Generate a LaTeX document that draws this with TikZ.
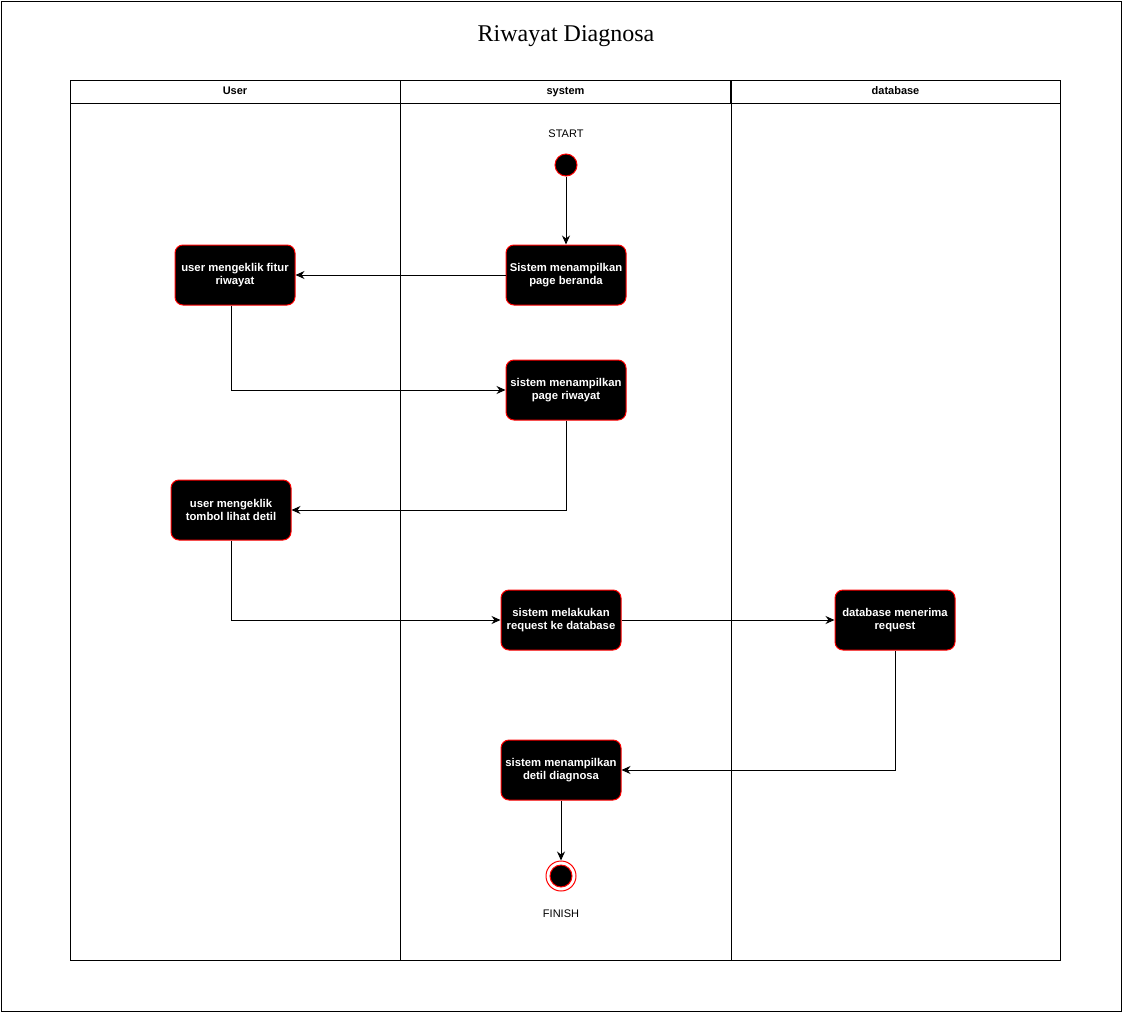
\documentclass[tikz,border=0pt]{standalone}
\usepackage{fontspec}
\setmainfont{Liberation Sans}
\newfontfamily\titlefont{Liberation Serif}
\usetikzlibrary{arrows.meta}

\begin{document}
\begin{tikzpicture}[
        x=1pt, y=-1pt,
        every node/.style={font=\fontsize{11}{13}\selectfont},
        lanehead/.style={rectangle, draw=black, line width=1pt, minimum width=330pt, minimum height=23pt, inner sep=0pt, text height=8pt, text depth=2pt, font=\fontsize{11}{13}\selectfont\bfseries},
        activity/.style={rectangle, draw=red, line width=1pt, fill=black, rounded corners=8pt, minimum width=120pt, minimum height=60pt, align=center, text=white, font=\fontsize{11.3}{13.5}\selectfont\bfseries},
        startnode/.style={circle, draw=red, line width=1pt, fill=black, minimum size=22pt, inner sep=0pt},
        finishring/.style={circle, draw=red, line width=1pt, fill=white, minimum size=30pt, inner sep=0pt},
        arrow/.style={line width=1pt, -{Stealth[length=9pt,width=8pt]}}
        ]

        % Frame and title
        \useasboundingbox (0,0) rectangle (1122,1012);
        \draw[line width=1pt] (1,1) rectangle (1121,1011);
        \node[font=\titlefont\fontsize{24}{27}\selectfont] (title) at (566,36) {Riwayat Diagnosa};

        % Swimlanes
        \draw[line width=1pt] (70,80) rectangle (400,960);
        \draw[line width=1pt] (400,80) rectangle (731,960);
        \draw[line width=1pt] (731,80) rectangle (1060,960);
        \node[lanehead] (hUser) at (235,91.5) {User};
        \node[lanehead] (hSystem) at (565.5,91.5) {system};
        \node[lanehead] (hDatabase) at (895.5,91.5) {database};

        % Start
        \node (startlbl) at (566,134) {START};
        \node[startnode] (start) at (566,165) {};

        % Activities
        \node[activity] (beranda) at (566,275) {Sistem menampilkan\\page beranda};
        \node[activity] (fitur) at (235,275) {user mengeklik fitur\\riwayat};
        \node[activity] (riwayat) at (566,390) {sistem menampilkan\\page riwayat};
        \node[activity] (detil) at (231,510) {user mengeklik\\tombol lihat detil};
        \node[activity] (request) at (561,620) {sistem melakukan\\request ke database};
        \node[activity] (terima) at (895,620) {database menerima\\request};
        \node[activity] (tampil) at (561,770) {sistem menampilkan\\detil diagnosa};

        % Finish
        \node[finishring] (finish) at (561,876) {};
        \node[startnode] (finishdot) at (561,876) {};
        \node (finishlbl) at (561,914) {FINISH};

        % Flow
        \draw[arrow] (start) -- (beranda);
        \draw[arrow] (beranda) -- (fitur);
        \draw[arrow] (fitur.south -| detil) |- (riwayat);
        \draw[arrow] (riwayat) |- (detil);
        \draw[arrow] (detil) |- (request);
        \draw[arrow] (request) -- (terima);
        \draw[arrow] (terima) |- (tampil);
        \draw[arrow] (tampil) -- (finish);

    \end{tikzpicture}
\end{document}
